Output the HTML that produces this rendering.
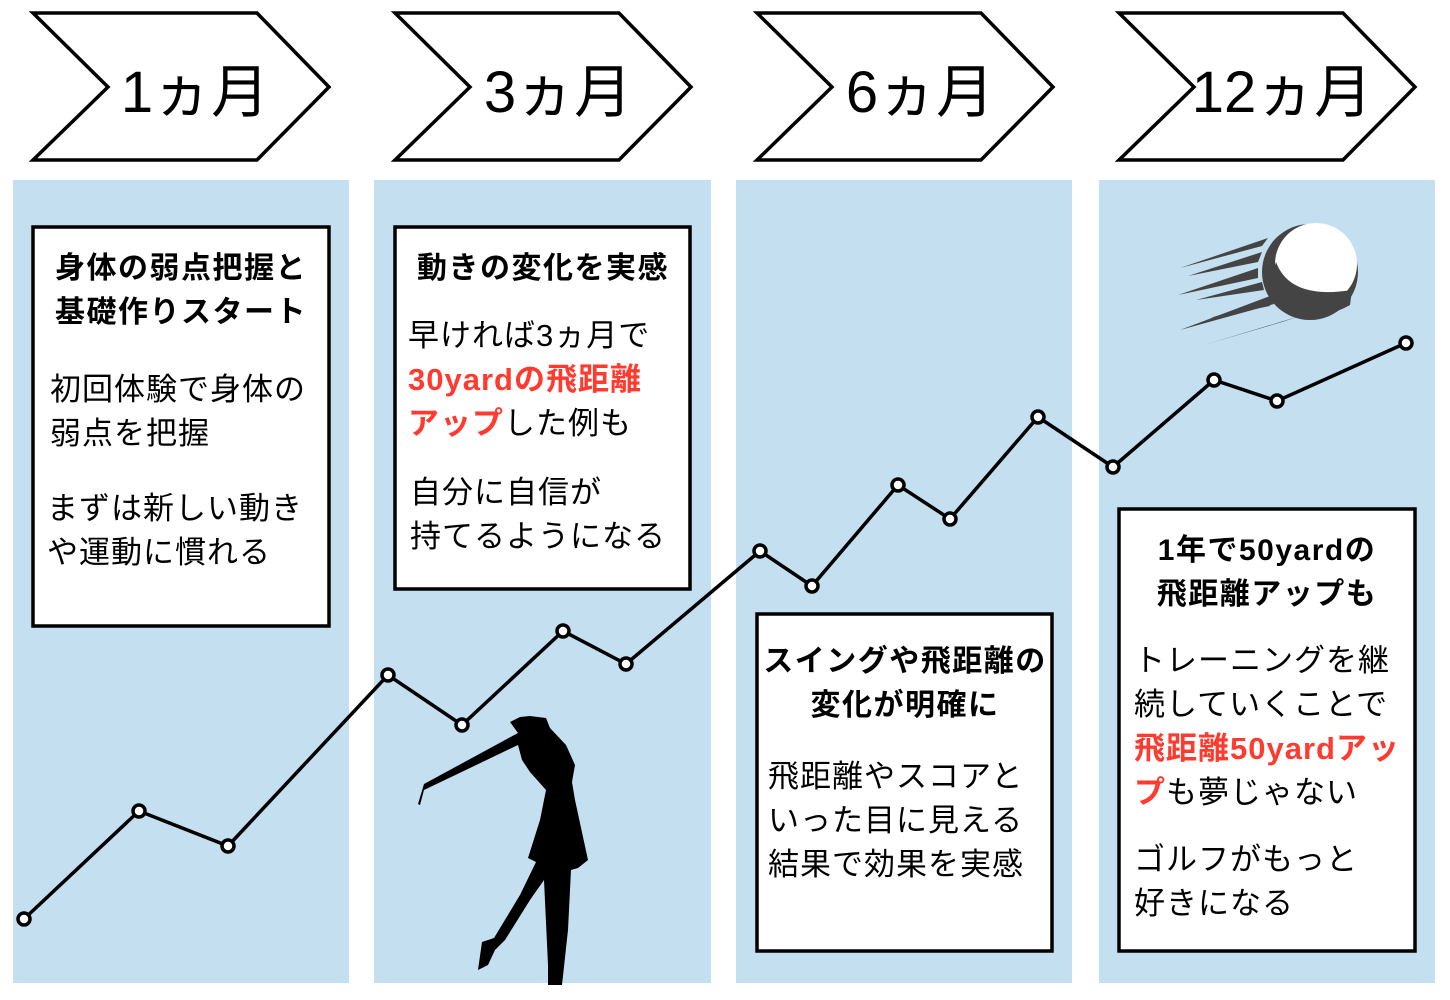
<!DOCTYPE html>
<html><head><meta charset="utf-8"><style>
body{margin:0;background:#fff}
svg{display:block}
text{font-family:"Liberation Sans","Noto Sans CJK JP",sans-serif}
.h{font-weight:bold;font-size:30px;letter-spacing:1.5px;text-anchor:middle}
.b{font-size:31px;letter-spacing:1px}
.r{fill:#ff3b30;font-weight:bold}
.c{font-size:58px;text-anchor:middle}
</style></head><body>
<svg width="1450" height="1000" viewBox="0 0 1450 1000">
<g fill="#c4dff0">
<rect x="13" y="180" width="336" height="803"/>
<rect x="374" y="180" width="337" height="803"/>
<rect x="736" y="180" width="336" height="803"/>
<rect x="1099" y="180" width="336" height="803"/>
</g>
<g fill="#fff" stroke="#000" stroke-width="3.5">
<polygon points="33,13 257,13 329,87 257,160 33,160 108,87"/>
<polygon points="395,13 619,13 691,87 619,160 395,160 470,87"/>
<polygon points="757,13 981,13 1053,87 981,160 757,160 832,87"/>
<polygon points="1119,13 1343,13 1415,87 1343,160 1119,160 1194,87"/>
</g>
<text class="c" x="195" y="112">1ヵ月</text>
<text class="c" x="558" y="112">3ヵ月</text>
<text class="c" x="920" y="112">6ヵ月</text>
<text class="c" x="1282" y="112">12ヵ月</text>

<!-- golfer -->
<path d="M418,804 L424,784 L518,733 L510,722 L520,717 L530,716 L546,718 L550,728 L566,745 L575,765 L572,782 L575,800 L588,860 L578,868 L571,870 L568,930 L562,985 L548,985 L548,965 L544,880 L530,900 L505,940 L495,950 L488,965 L478,970 L482,942 L494,938 L520,895 L536,862 L528,858 L540,820 L546,790 L530,772 L522,760 L518,745 L424,790 L420,805 Z" fill="#000"/>

<!-- ball -->
<g fill="#444">
<polygon points="1180,268 1268,238 1262,246"/>
<polygon points="1188,276 1262,252 1258,262"/>
<polygon points="1178,295 1258,268 1258,278"/>
<polygon points="1196,300 1262,282 1264,290"/>
<polygon points="1180,330 1270,296 1274,304"/>
<polygon points="1210,318 1268,300 1270,306"/>
<polygon points="1204,345 1300,316 1282,322"/>
</g>
<circle cx="1310" cy="272" r="48" fill="#444"/>
<circle cx="1316" cy="264" r="41" fill="#fff"/>
<path d="M1276,262 Q1290,300 1352,290 L1350,305 Q1320,322 1290,312 Q1266,290 1276,262Z" fill="#444"/>

<polyline points="24,919 139,811 228,846 388,675 462,725 563,631 626,664 760,551 812,586 898,485 950,519 1038,417 1113,467 1214,380 1277,401 1406,343" fill="none" stroke="#000" stroke-width="3.5"/>
<g fill="#fff" stroke="#000" stroke-width="3.5">
<circle cx="24" cy="919" r="6"/><circle cx="139" cy="811" r="6"/><circle cx="228" cy="846" r="6"/><circle cx="388" cy="675" r="6"/><circle cx="462" cy="725" r="6"/><circle cx="563" cy="631" r="6"/><circle cx="626" cy="664" r="6"/><circle cx="760" cy="551" r="6"/><circle cx="812" cy="586" r="6"/><circle cx="898" cy="485" r="6"/><circle cx="950" cy="519" r="6"/><circle cx="1038" cy="417" r="6"/><circle cx="1113" cy="467" r="6"/><circle cx="1214" cy="380" r="6"/><circle cx="1277" cy="401" r="6"/><circle cx="1406" cy="343" r="6"/>
</g>

<g fill="#fff" stroke="#000" stroke-width="3.5">
<rect x="33" y="227" width="296" height="399"/>
<rect x="395" y="227" width="295" height="362"/>
<rect x="757" y="614" width="295" height="337"/>
<rect x="1119" y="509" width="296" height="442"/>
</g>

<text class="h" x="181" y="278">身体の弱点把握と</text>
<text class="h" x="181" y="322">基礎作りスタート</text>
<text class="b" x="50" y="400">初回体験で身体の</text>
<text class="b" x="50" y="444">弱点を把握</text>
<text class="b" x="47" y="519">まずは新しい動き</text>
<text class="b" x="47" y="563">や運動に慣れる</text>

<text class="h" x="543" y="278">動きの変化を実感</text>
<text class="b" x="408" y="346">早ければ3ヵ月で</text>
<text class="b r" x="408" y="390">30yardの飛距離</text>
<text class="b" x="408" y="434"><tspan class="r">アップ</tspan>した例も</text>
<text class="b" x="410" y="503">自分に自信が</text>
<text class="b" x="410" y="547">持てるようになる</text>

<text class="h" x="905" y="671">スイングや飛距離の</text>
<text class="h" x="905" y="715">変化が明確に</text>
<text class="b" x="768" y="787">飛距離やスコアと</text>
<text class="b" x="768" y="831">いった目に見える</text>
<text class="b" x="768" y="875">結果で効果を実感</text>

<text class="h" x="1267" y="560">1年で50yardの</text>
<text class="h" x="1267" y="604">飛距離アップも</text>
<text class="b" x="1134" y="671">トレーニングを継</text>
<text class="b" x="1134" y="715">続していくことで</text>
<text class="b r" x="1134" y="759">飛距離50yardアッ</text>
<text class="b" x="1134" y="803"><tspan class="r">プ</tspan>も夢じゃない</text>
<text class="b" x="1134" y="870">ゴルフがもっと</text>
<text class="b" x="1134" y="914">好きになる</text>
</svg>
</body></html>
